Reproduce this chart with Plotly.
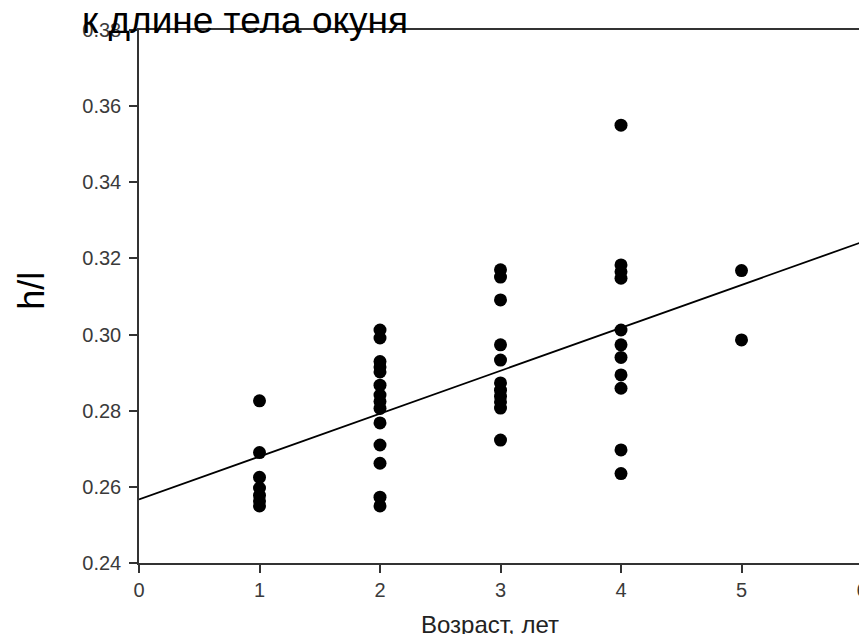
import plotly.graph_objects as go

age1 = [0.2826, 0.2690, 0.2625, 0.2597, 0.2578, 0.2563, 0.2550]
age2 = [0.3012, 0.2991, 0.2929, 0.2915, 0.2902, 0.2867, 0.2841, 0.2824,
        0.2806, 0.2768, 0.2710, 0.2662, 0.2573, 0.2550]
age3 = [0.3170, 0.3151, 0.3091, 0.2973, 0.2933, 0.2873, 0.2854, 0.2838,
        0.2823, 0.2807, 0.2723]
age4 = [0.3550, 0.3183, 0.3165, 0.3148, 0.3012, 0.2973, 0.2940, 0.2894,
        0.2859, 0.2697, 0.2635]
age5 = [0.3168, 0.2986]
groups = {1: age1, 2: age2, 3: age3, 4: age4, 5: age5}

fit_x = [0, 6]
fit_y = [0.2567, 0.3243]

x_ticks = [0, 1, 2, 3, 4, 5, 6]
y_ticks = [0.24, 0.26, 0.28, 0.30, 0.32, 0.34, 0.36, 0.38]

xs, ys = [], []
for a, vals in groups.items():
    xs += [a] * len(vals)
    ys += vals

FONT = "Liberation Sans, Arial, sans-serif"

fig = go.Figure()
fig.add_trace(go.Scatter(x=fit_x, y=fit_y, mode="lines",
                         line=dict(color="black", width=1.8),
                         showlegend=False, hoverinfo="skip"))
fig.add_trace(go.Scatter(x=xs, y=ys, mode="markers",
                         marker=dict(color="black", size=13),
                         showlegend=False))

tickfont = dict(family=FONT, size=20, color="#3a3a3a")
fig.update_xaxes(range=[0, 6], tickvals=x_ticks, ticktext=[str(t) for t in x_ticks],
                 showgrid=False, zeroline=False, showline=True, linecolor="#333",
                 linewidth=1.5, mirror=True, ticks="outside", ticklen=8,
                 tickcolor="#333", tickwidth=1.5, tickfont=tickfont,
                 automargin=False, ticklabelstandoff=0)
fig.update_yaxes(range=[0.24, 0.38], tickvals=y_ticks,
                 ticktext=[f"{t:.2f}" for t in y_ticks],
                 showgrid=False, zeroline=False, showline=True, linecolor="#333",
                 linewidth=1.5, mirror=True, ticks="outside", ticklen=8,
                 tickcolor="#333", tickwidth=1.5, tickfont=tickfont,
                 automargin=False, ticklabelstandoff=4)

fig.add_annotation(text="к длине тела окуня", xref="paper", yref="paper",
                   x=-0.082, y=1.0, xanchor="left", yanchor="top", yshift=32,
                   showarrow=False,
                   font=dict(family=FONT, size=37, color="black"))
fig.add_annotation(text="h/l", xref="paper", yref="paper",
                   x=-0.149, y=0.5, xanchor="center", yanchor="middle", yshift=6,
                   textangle=-90, showarrow=False,
                   font=dict(family=FONT, size=36, color="black"))
fig.add_annotation(text="Возраст, лет", xref="x", yref="paper",
                   x=2.91, y=0, xanchor="center", yanchor="top", yshift=-46,
                   showarrow=False,
                   font=dict(family=FONT, size=24, color="#222"))

fig.update_layout(width=867, height=634, margin=dict(l=131, r=13, t=22, b=79),
                  plot_bgcolor="white", paper_bgcolor="white")
fig.write_html("out.html")
